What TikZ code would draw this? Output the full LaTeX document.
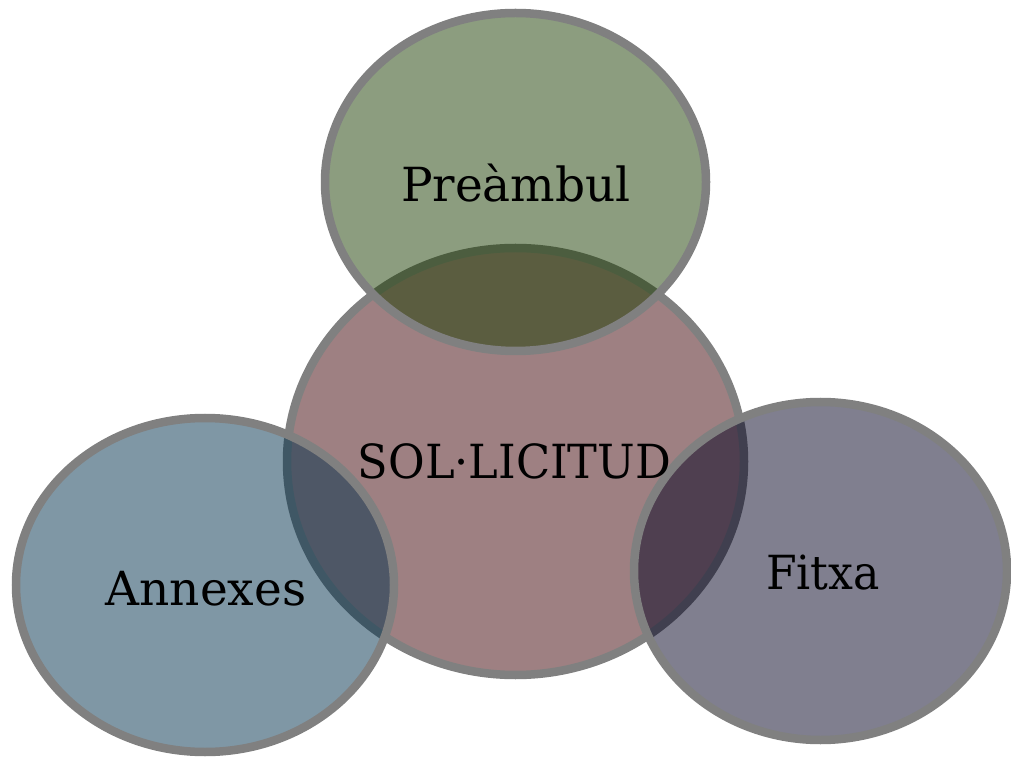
\documentclass[tikz,border=0pt]{standalone}
\usepackage{fontspec}
\setmainfont{DejaVu Serif}
\begin{document}
\begin{tikzpicture}[x=1pt,y=1pt,
  rim/.style={draw=rimgray, line width=8.5pt},
  petal/.style={rim, fill opacity=0.5},
  label/.style={anchor=base, inner sep=0pt, font=\fontsize{47}{50}\selectfont, text=black}]
\definecolor{rimgray}{RGB}{128,128,128}
\definecolor{coreC}{RGB}{158,128,130}
\definecolor{topC}{RGB}{25,59,0}
\definecolor{leftC}{RGB}{0,47,75}
\definecolor{rightC}{RGB}{1,0,31}
\useasboundingbox (0,0) rectangle (1011,758);
% central ellipse
\draw[rim, fill=coreC] (515.5,296.5) ellipse [x radius=228.5, y radius=213.5];
% outer ellipses
\draw[petal, fill=topC] (515.5,576) ellipse [x radius=190.5, y radius=169];
\draw[petal, fill=leftC] (205,173) ellipse [x radius=189, y radius=167];
\draw[petal, fill=rightC] (820.5,187) ellipse [x radius=186.5, y radius=169];
% labels
\node[label] (pre) at (516,556) {Preàmbul};
\node[label] (sol) at (514.5,279) {\scalebox{0.95}[1]{SOL·LICITUD}};
\node[label] (ann) at (206,153) {Annexes};
\node[label] (fit) at (823,169) {\scalebox{0.94}[1]{Fitxa}};
\end{tikzpicture}
\end{document}
